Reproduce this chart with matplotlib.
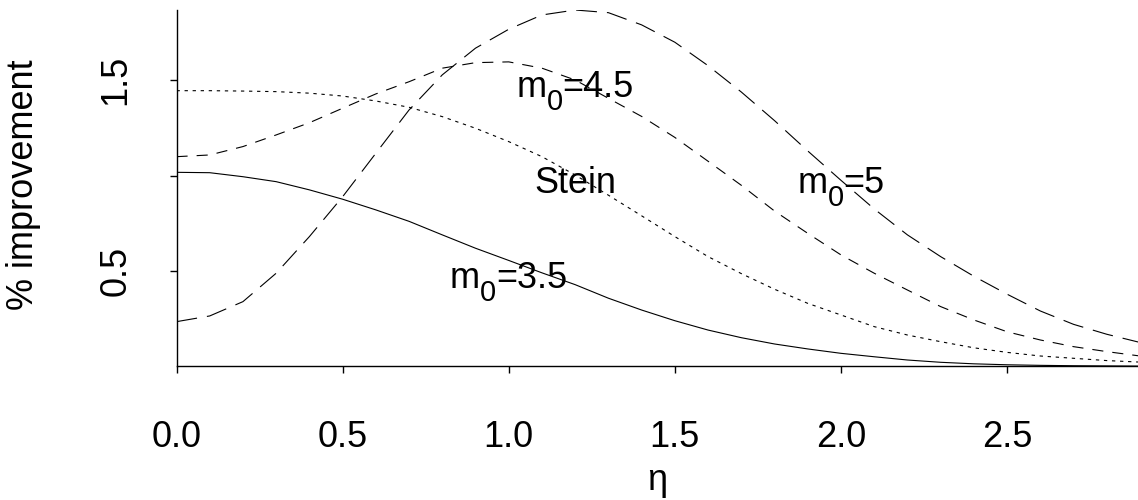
import matplotlib
matplotlib.use("Agg")
import matplotlib.pyplot as plt
from matplotlib.transforms import offset_copy

# eta grid and % improvement curves
eta = [0.0, 0.1, 0.2, 0.3, 0.4, 0.5, 0.6, 0.7, 0.8, 0.9,
       1.0, 1.1, 1.2, 1.3, 1.4, 1.5, 1.6, 1.7, 1.8, 1.9,
       2.0, 2.1, 2.2, 2.3, 2.4, 2.5, 2.6, 2.7, 2.8, 2.9]

m0_35 = [1.017, 1.015, 0.994, 0.968, 0.925, 0.876, 0.820, 0.760, 0.689, 0.619,
         0.555, 0.490, 0.428, 0.357, 0.295, 0.239, 0.190, 0.150, 0.117, 0.091,
         0.068, 0.050, 0.033, 0.021, 0.013, 0.008, 0.005, 0.003, 0.002, 0.001]

stein = [1.445, 1.445, 1.443, 1.440, 1.432, 1.417, 1.391, 1.358, 1.309, 1.248,
         1.178, 1.099, 1.003, 0.897, 0.789, 0.680, 0.575, 0.486, 0.404, 0.330,
         0.269, 0.208, 0.164, 0.129, 0.097, 0.073, 0.054, 0.042, 0.030, 0.022]

m0_45 = [1.099, 1.108, 1.152, 1.213, 1.277, 1.353, 1.428, 1.492, 1.563, 1.592,
         1.596, 1.563, 1.501, 1.405, 1.310, 1.200, 1.075, 0.949, 0.814, 0.697,
         0.584, 0.488, 0.400, 0.313, 0.243, 0.181, 0.138, 0.103, 0.077, 0.054]

m0_5 = [0.234, 0.264, 0.339, 0.488, 0.680, 0.889, 1.117, 1.344, 1.528, 1.668,
        1.767, 1.842, 1.868, 1.854, 1.790, 1.699, 1.576, 1.438, 1.288, 1.129,
        0.975, 0.825, 0.689, 0.575, 0.472, 0.378, 0.290, 0.220, 0.168, 0.125]

x_ticks = [0.0, 0.5, 1.0, 1.5, 2.0, 2.5]
x_tick_labels = ["0.0", "0.5", "1.0", "1.5", "2.0", "2.5"]
y_ticks = [0.5, 1.0, 1.5]
y_tick_labels = ["0.5", "", "1.5"]

plt.rcParams["font.family"] = ["Liberation Sans", "DejaVu Sans"]
plt.rcParams["lines.scale_dashes"] = False

W, H = 1138, 500
fs = 26
fig = plt.figure(figsize=(W / 100, H / 100), dpi=100)
x0, y0, y1 = 176.5, 366.3, 10.0
ax = fig.add_axes([x0 / W, (H - y0) / H, 1 - x0 / W, (y0 - y1) / H])
renderer = fig.canvas.get_renderer()


def m0_label(x, y, rest):
    """Write m[0]<rest> centred on x, baseline at y, R plotmath style."""
    parts = [("m", fs, 0), ("0", fs * 0.8, -13), (rest, fs, 0)]
    probes = []
    for s, size, _ in parts:
        t = fig.text(0, 0, s, fontsize=size)
        probes.append(t.get_window_extent(renderer).width)
        t.remove()
    dx = -sum(probes) / 2
    for (s, size, dy), w in zip(parts, probes):
        tr = offset_copy(ax.transData, fig=fig, x=dx, y=dy, units="dots")
        ax.text(x, y, s, fontsize=size, ha="left", va="baseline", transform=tr)
        dx += w


lw = 0.8
ax.plot(eta, m0_35, color="black", lw=lw, linestyle="-")
ax.plot(eta, stein, color="black", lw=lw, linestyle=(0, (2.4, 3.4)))
ax.plot(eta, m0_45, color="black", lw=lw, linestyle=(0, (8.0, 6.5)))
ax.plot(eta, m0_5, color="black", lw=lw, linestyle=(0, (15.0, 7.2)))

ax.set_xlim(0, 2.894)
ax.set_ylim(0, max(m0_5))

m0_label(1.2, 1.412, "=4.5")
ax.text(1.2, 0.908, "Stein", ha="center", va="baseline", fontsize=fs)
m0_label(2.0, 0.910, "=5")
m0_label(1.0, 0.410, "=3.5")

for side in ["top", "right"]:
    ax.spines[side].set_visible(False)
for side in ["left", "bottom"]:
    ax.spines[side].set_linewidth(1.0)

ax.set_xticks(x_ticks)
ax.set_xticklabels(x_tick_labels, fontsize=fs)
ax.set_yticks(y_ticks)
ax.set_yticklabels(y_tick_labels, fontsize=fs, rotation=90, va="center")
ax.tick_params(axis="x", direction="out", length=5, width=1.0, pad=34)
ax.tick_params(axis="y", direction="out", length=5, width=1.0, pad=26)

fig.text(657 / W, 1 - 490 / H, "η", ha="center", va="baseline", fontsize=fs)
fig.text(23.5 / W, 1 - 185 / H, "% improvement", ha="center", va="center",
         rotation=90, fontsize=fs)

fig.savefig("out.png", dpi=100)
